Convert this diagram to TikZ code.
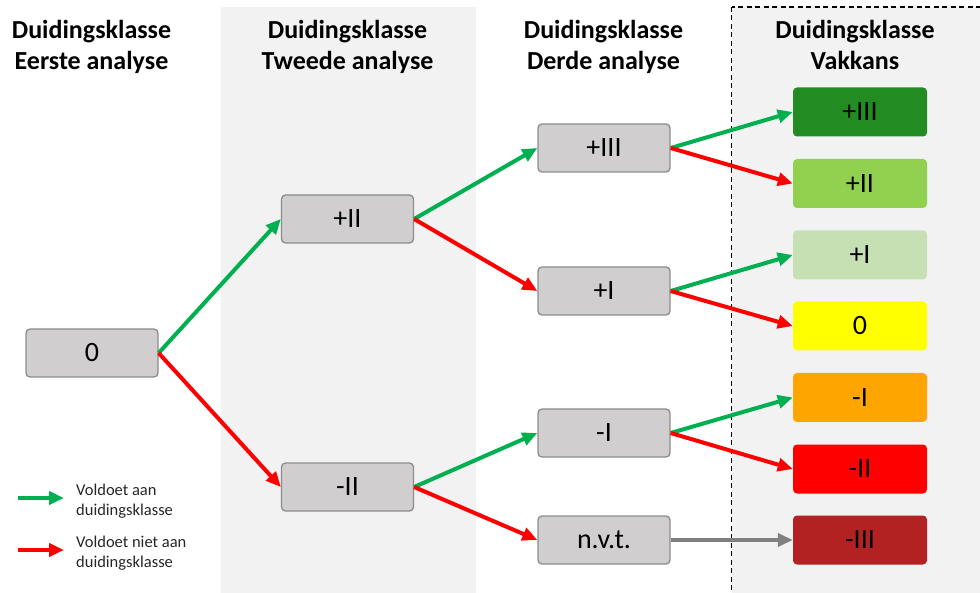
\documentclass[tikz,border=0pt]{standalone}
\usepackage{fontspec}
\setmainfont{Carlito}
\usetikzlibrary{arrows.meta}
\definecolor{boxgray}{HTML}{D0CECE}
\definecolor{boxline}{HTML}{8C8C8C}
\definecolor{colbg}{HTML}{F2F2F2}
\definecolor{okgreen}{HTML}{00B050}
\definecolor{nored}{HTML}{FF0000}
\definecolor{naarrow}{HTML}{808080}
\definecolor{kIIIp}{HTML}{228B22}
\definecolor{kIIp}{HTML}{92D050}
\definecolor{kIp}{HTML}{C6E0B4}
\definecolor{kzero}{HTML}{FFFF00}
\definecolor{kIm}{HTML}{FFA500}
\definecolor{kIIm}{HTML}{FF0000}
\definecolor{kIIIm}{HTML}{B22222}
\tikzset{
  heading/.style={align=center, inner sep=0pt, anchor=south, text depth=7pt,
    font=\fontsize{26}{31}\selectfont\bfseries},
  stagebox/.style={draw=boxline, line width=1.3pt, fill=boxgray, rounded corners=4pt,
    minimum width=132pt, minimum height=48pt, inner sep=0pt, font=\fontsize{28}{32}\selectfont},
  resultbox/.style={fill=#1, rounded corners=4pt,
    minimum width=134pt, minimum height=49pt, inner sep=0pt, font=\fontsize{28}{32}\selectfont},
  flow/.style={line width=4pt, -{Triangle[length=15pt,width=13pt]}},
  pass/.style={flow, draw=okgreen},
  fail/.style={flow, draw=nored},
  nvt/.style={flow, draw=naarrow},
  legendtext/.style={align=left, anchor=west, inner sep=0pt, font=\fontsize{16.5}{20}\selectfont, text=black!85}
}
\begin{document}
\begin{tikzpicture}[x=1pt, y=-1pt]
\useasboundingbox (0,0) rectangle (980,593);
% column backgrounds
\fill[colbg] (221,7) rectangle (476,593);
\draw[fill=colbg, line width=1.2pt, dash pattern=on 5pt off 3.5pt] (731.5,7) rectangle (990,600);
% headings (south anchor sits 7pt below the last baseline)
\node[heading] (h1) at (91.5,77) {Duidingsklasse\\Eerste analyse};
\node[heading] (h2) at (347.5,77) {Duidingsklasse\\Tweede analyse};
\node[heading] (h3) at (603.5,77) {Duidingsklasse\\Derde analyse};
\node[heading] (h4) at (855,77) {Duidingsklasse\\Vakkans};
% first analysis
\node[stagebox] (a0) at (92,353) {0};
% second analysis
\node[stagebox] (b1) at (347.5,219) {+II};
\node[stagebox] (b2) at (347.5,487) {-II};
% third analysis
\node[stagebox] (c1) at (604,148) {+III};
\node[stagebox] (c2) at (604,291) {+I};
\node[stagebox] (c3) at (604,433) {-I};
\node[stagebox] (c4) at (604,540) {n.v.t.};
% final class
\node[resultbox=kIIIp] (d1) at (860,112) {+III};
\node[resultbox=kIIp] (d2) at (860,183.5) {+II};
\node[resultbox=kIp] (d3) at (860,255) {+I};
\node[resultbox=kzero] (d4) at (860,326) {0};
\node[resultbox=kIm] (d5) at (860,397.5) {-I};
\node[resultbox=kIIm] (d6) at (860,469) {-II};
\node[resultbox=kIIIm] (d7) at (860,540) {-III};
% connectors
\draw[pass] (a0.east) -- (b1.west);
\draw[fail] (a0.east) -- (b2.west);
\draw[pass] (b1.east) -- (c1.west);
\draw[fail] (b1.east) -- (c2.west);
\draw[pass] (b2.east) -- (c3.west);
\draw[fail] (b2.east) -- (c4.west);
\draw[pass] (c1.east) -- (d1.west);
\draw[fail] (c1.east) -- (d2.west);
\draw[pass] (c2.east) -- (d3.west);
\draw[fail] (c2.east) -- (d4.west);
\draw[pass] (c3.east) -- (d5.west);
\draw[fail] (c3.east) -- (d6.west);
\draw[nvt] (c4.east) -- (d7.west);
% legend
\coordinate (lg1s) at (18,498);
\coordinate (lg1e) at (64,498);
\coordinate (lg2s) at (18,550);
\coordinate (lg2e) at (64,550);
\draw[pass] (lg1s) -- (lg1e);
\draw[fail] (lg2s) -- (lg2e);
\node[legendtext] (lt1) at (76,501) {Voldoet aan\\duidingsklasse};
\node[legendtext] (lt2) at (76,553) {Voldoet niet aan\\duidingsklasse};
\end{tikzpicture}
\end{document}
